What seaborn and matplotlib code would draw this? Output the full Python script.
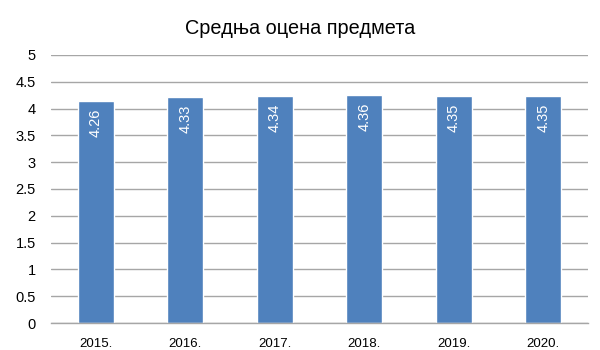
import matplotlib
matplotlib.use("Agg")
import matplotlib.pyplot as plt
import seaborn as sns
import pandas as pd

years = ["2015.", "2016.", "2017.", "2018.", "2019.", "2020."]
bar_heights = [4.14, 4.22, 4.235, 4.25, 4.235, 4.235]
bar_labels = ["4.26", "4.33", "4.34", "4.36", "4.35", "4.35"]
y_ticks = [0, 0.5, 1, 1.5, 2, 2.5, 3, 3.5, 4, 4.5, 5]
y_tick_labels = ["0", "0.5", "1", "1.5", "2", "2.5", "3", "3.5", "4", "4.5", "5"]
title = "Средња оцена предмета"

sns.set_theme(style="white")
plt.rcParams['font.family'] = ['Liberation Sans', 'DejaVu Sans']

df = pd.DataFrame({"year": years, "value": bar_heights})

fig = plt.figure(figsize=(6, 3.5), dpi=100)
ax = fig.add_axes([0.085, 0.077, 0.895, 0.766])
sns.barplot(data=df, x="year", y="value", color="#4f81bd", saturation=1,
            width=0.4, ax=ax, zorder=3)

ax.set_ylim(0, 5)
ax.set_xlim(-0.5, len(years) - 0.5)
ax.set_yticks(y_ticks)
ax.set_yticklabels(y_tick_labels)
ax.yaxis.grid(True, color="#a6a6a6", linewidth=1, zorder=0)
ax.set_axisbelow(True)
for s in ["top", "right", "left"]:
    ax.spines[s].set_visible(False)
ax.spines["bottom"].set_color("#a6a6a6")
ax.spines["bottom"].set_linewidth(1)
ax.spines["bottom"].set_zorder(4)
ax.tick_params(axis="y", length=0, labelsize=10.5, colors="black", pad=11)
ax.tick_params(axis="x", length=0, labelsize=9.5, colors="black", pad=11)
ax.set_xlabel("")
ax.set_ylabel("")

for patch, lab in zip(ax.patches, bar_labels):
    x = patch.get_x() + patch.get_width() / 2
    top = patch.get_height()
    ax.text(x, top - 0.14, lab, rotation=90, ha="center", va="top",
            color="white", fontsize=10.5, zorder=5)

fig.suptitle(title, x=0.5, y=0.945, fontsize=14.3, color="black")

fig.savefig("out.png", dpi=100)
